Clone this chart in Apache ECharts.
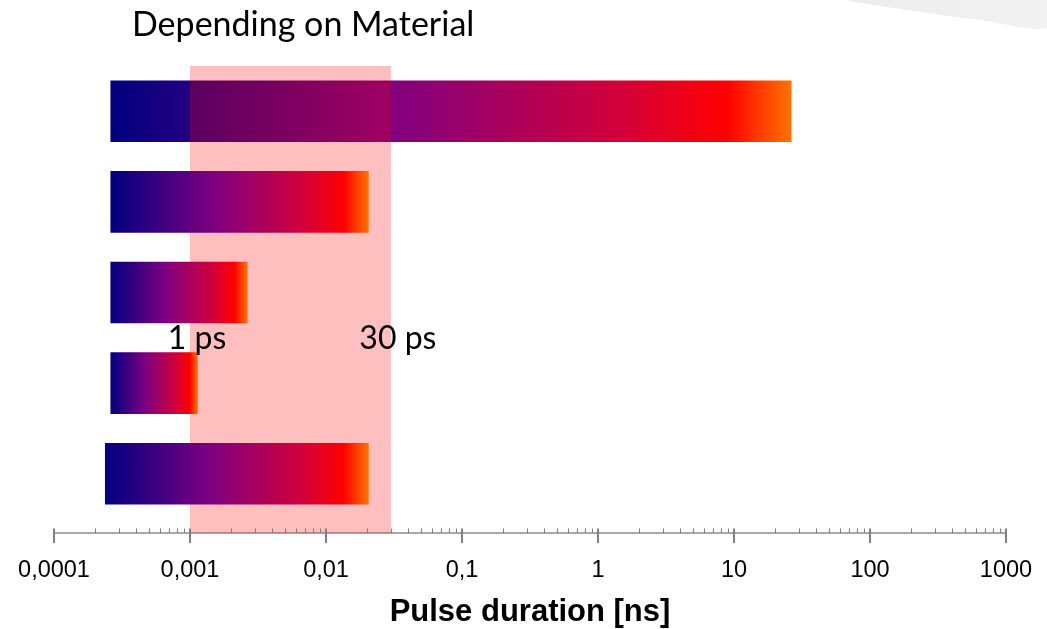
<!DOCTYPE html>
<html>
<head>
<meta charset="utf-8">
<script src="https://cdn.jsdelivr.net/npm/echarts@6/dist/echarts.min.js"></script>
<style>
html,body{margin:0;padding:0;background:#fff;}
#chart{width:1047px;height:629px;}
</style>
</head>
<body>
<div id="chart"></div>
<script>
// ---- data ----
const categories = ['Material 1', 'Material 2', 'Material 3', 'Material 4', 'Material 5'];
const pulseStart = [0.00026, 0.00026, 0.00026, 0.00026, 0.000237];   // ns
const pulseEnd   = [26.5, 0.0206, 0.00265, 0.00114, 0.0206];        // ns
const bandRange  = [0.001, 0.03];                                     // ns (1 ps .. 30 ps)
const bandLabels = ['1 ps', '30 ps'];
const tickValues = [0.0001, 0.001, 0.01, 0.1, 1, 10, 100, 1000];
const tickLabels = ['0,0001', '0,001', '0,01', '0,1', '1', '10', '100', '1000'];
const titleText = 'Depending on Material';
const axisTitle = 'Pulse duration [ns]';

// minor tick positions 2..9 within each decade (axis structure)
const minorTicks = [];
for (let i = 0; i < tickValues.length - 1; i++) {
  for (let m = 2; m <= 9; m++) minorTicks.push(tickValues[i] * m);
}

const barRows = categories.map((c, i) => [pulseStart[i], pulseEnd[i], i]);
const AXIS_OFFSET = 14;
const TICK_COLOR = '#8c8c8c';

function barGradient() {
  return new echarts.graphic.LinearGradient(0, 0, 1, 0, [
    { offset: 0.00, color: '#000080' },
    { offset: 0.41, color: '#800080' },
    { offset: 0.75, color: '#d2003a' },
    { offset: 0.905, color: '#ff0000' },
    { offset: 1.00, color: '#ff7400' }
  ]);
}

function renderBar(params, api) {
  const s = api.coord([api.value(0), api.value(2)]);
  const e = api.coord([api.value(1), api.value(2)]);
  const h = api.size([0, 1])[1] * 0.68;
  return {
    type: 'rect',
    shape: { x: s[0], y: s[1] - h / 2, width: e[0] - s[0], height: h },
    style: { fill: barGradient() }
  };
}

const chart = echarts.init(document.getElementById('chart'), null, { renderer: 'canvas' });

const option = {
  animation: false,
  backgroundColor: '#ffffff',
  title: {
    text: titleText,
    left: 127,
    top: 3,
    textStyle: { fontFamily: 'Lato', fontWeight: 'normal', fontSize: 34, color: '#000' }
  },
  grid: { left: 54, right: 41, top: 66, bottom: 110, outerBoundsMode: 'none', containLabel: false },
  xAxis: {
    type: 'log',
    logBase: 10,
    min: 0.0001,
    max: 1000,
    offset: AXIS_OFFSET,
    axisLine: { show: true, lineStyle: { color: TICK_COLOR, width: 1.5 } },
    axisTick: { show: false },
    splitLine: { show: false },
    axisLabel: {
      margin: 26,
      fontFamily: 'Liberation Sans',
      fontSize: 23.5,
      color: '#000',
      formatter: function (v) {
        const idx = Math.round(Math.log10(v)) + 4;
        return tickLabels[idx] !== undefined ? tickLabels[idx] : '';
      }
    },
    name: axisTitle,
    nameLocation: 'middle',
    nameGap: 64,
    nameTextStyle: { fontFamily: 'Liberation Sans', fontWeight: 'bold', fontSize: 31, color: '#000' }
  },
  yAxis: {
    type: 'category',
    data: categories,
    inverse: true,
    show: false
  },
  graphic: [{
    type: 'polygon',
    silent: true,
    shape: { points: [[850, 0], [1047, 0], [1047, 28], [980, 20], [900, 9]], smooth: 0.3 },
    style: {
      fill: new echarts.graphic.LinearGradient(0, 0, 1, 0, [
        { offset: 0, color: '#ececec' }, { offset: 1, color: '#f2f2f2' }
      ])
    },
    z: 0
  }],
  series: [
    {
      name: 'bar below band',
      type: 'custom',
      z: 2,
      encode: { x: [0, 1], y: 2 },
      renderItem: renderBar,
      data: barRows.slice(0, 1)
    },
    {
      name: 'band',
      type: 'custom',
      z: 3,
      clip: false,
      encode: { x: [0, 1] },
      renderItem: function (params, api) {
        const cs = params.coordSys;
        const x0 = api.coord([api.value(0), 0])[0];
        const x1 = api.coord([api.value(1), 0])[0];
        return {
          type: 'rect',
          shape: { x: x0, y: cs.y, width: x1 - x0, height: cs.height + AXIS_OFFSET },
          style: { fill: 'rgba(255,0,0,0.25)' }
        };
      },
      data: [[bandRange[0], bandRange[1]]]
    },
    {
      name: 'bars above band',
      type: 'custom',
      z: 4,
      encode: { x: [0, 1], y: 2 },
      renderItem: renderBar,
      data: barRows.slice(1)
    },
    {
      name: 'ticks',
      type: 'custom',
      z: 5,
      clip: false,
      silent: true,
      encode: { x: 0 },
      renderItem: function (params, api) {
        const cs = params.coordSys;
        const y0 = cs.y + cs.height + AXIS_OFFSET;
        const major = api.value(1) === 1;
        const raw = api.coord([api.value(0), 0])[0];
        const x = major ? Math.round(raw) : Math.round(raw) + 0.5;
        return {
          type: 'line',
          shape: { x1: x, y1: y0 - 4.5, x2: x, y2: major ? y0 + 10 : y0 },
          style: { stroke: '#7f7f7f', lineWidth: major ? 2 : 1 }
        };
      },
      data: tickValues.map(v => [v, 1]).concat(minorTicks.map(v => [v, 0]))
    },
    {
      name: 'band labels',
      type: 'custom',
      z: 6,
      clip: false,
      silent: true,
      encode: { x: 0 },
      renderItem: function (params, api) {
        const x = api.coord([api.value(0), 0])[0];
        const yTop = api.coord([api.value(0), 2])[1];
        const yBot = api.coord([api.value(0), 3])[1];
        return {
          type: 'text',
          x: x + 7,
          y: (yTop + yBot) / 2 + 1,
          style: {
            text: bandLabels[params.dataIndex],
            fontFamily: 'Lato',
            fontSize: 32,
            fill: '#000',
            align: 'center',
            verticalAlign: 'middle'
          }
        };
      },
      data: bandRange.map(v => [v])
    }
  ]
};

chart.setOption(option);
</script>
</body>
</html>
